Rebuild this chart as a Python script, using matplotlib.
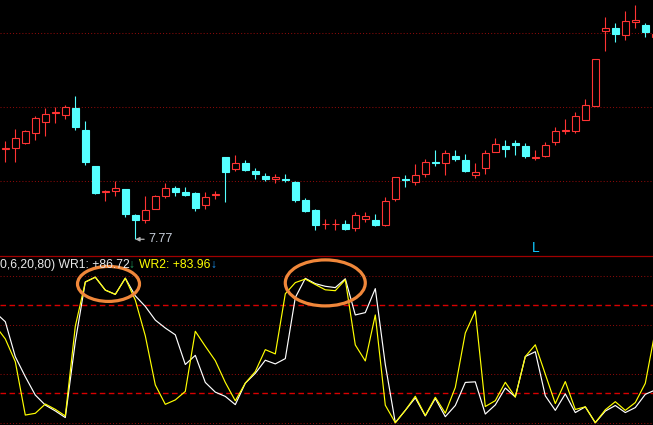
import matplotlib
matplotlib.use("Agg")
import matplotlib.pyplot as plt
from matplotlib.patches import Rectangle, Ellipse
from matplotlib.lines import Line2D
import numpy as np

# ---------------- data ----------------
opens  = [8.75, 8.76, 8.81, 8.92, 9.04, 9.13, 9.11, 9.19, 8.95, 8.56,
          8.28, 8.29, 8.31, 8.03, 7.98, 8.10, 8.24, 8.32, 8.28, 8.27,
          8.14, 8.25, 8.66, 8.53, 8.59, 8.51, 8.45, 8.42, 8.42, 8.39,
          8.19, 8.09, 7.93, 7.93, 7.94, 7.89, 7.99, 7.98, 7.92, 8.21,
          8.42, 8.39, 8.48, 8.60, 8.59, 8.67, 8.63, 8.47, 8.54, 8.71,
          8.78, 8.81, 8.78, 8.65, 8.67, 8.82, 8.94, 8.94, 9.06, 9.21,
          10.02, 10.05, 9.98, 10.12, 10.09, 9.96]
highs  = [8.83, 8.96, 8.95, 9.10, 9.19, 9.20, 9.22, 9.32, 9.05, 8.56,
          8.30, 8.40, 8.31, 8.04, 8.24, 8.25, 8.38, 8.35, 8.34, 8.28,
          8.28, 8.29, 8.66, 8.68, 8.63, 8.54, 8.49, 8.48, 8.48, 8.40,
          8.22, 8.10, 7.99, 7.99, 7.98, 8.06, 8.06, 8.04, 8.23, 8.44,
          8.46, 8.58, 8.64, 8.74, 8.74, 8.74, 8.69, 8.59, 8.74, 8.86,
          8.84, 8.84, 8.81, 8.74, 8.82, 8.98, 9.07, 9.15, 9.29, 9.72,
          10.17, 10.11, 10.24, 10.30, 10.11, 10.00]
lows   = [8.60, 8.61, 8.80, 8.84, 8.89, 9.03, 9.07, 8.95, 8.57, 8.26,
          8.18, 8.24, 8.01, 7.77, 7.95, 8.10, 8.22, 8.24, 8.24, 8.08,
          8.10, 8.21, 8.17, 8.51, 8.51, 8.42, 8.40, 8.38, 8.39, 8.17,
          8.07, 7.87, 7.88, 7.87, 7.87, 7.86, 7.96, 7.91, 7.91, 8.18,
          8.33, 8.36, 8.44, 8.56, 8.46, 8.62, 8.50, 8.43, 8.48, 8.71,
          8.66, 8.68, 8.65, 8.63, 8.66, 8.79, 8.91, 8.92, 9.06, 9.21,
          9.81, 9.90, 9.92, 10.05, 9.96, 9.96]
closes = [8.76, 8.87, 8.94, 9.08, 9.12, 9.15, 9.20, 8.98, 8.60, 8.27,
          8.29, 8.32, 8.04, 7.98, 8.09, 8.24, 8.32, 8.28, 8.25, 8.11,
          8.23, 8.26, 8.50, 8.59, 8.52, 8.48, 8.42, 8.44, 8.41, 8.19,
          8.08, 7.92, 7.94, 7.94, 7.88, 8.03, 8.02, 7.92, 8.18, 8.44,
          8.41, 8.46, 8.60, 8.59, 8.70, 8.64, 8.51, 8.50, 8.70, 8.80,
          8.75, 8.79, 8.67, 8.66, 8.79, 8.94, 8.95, 9.10, 9.22, 9.72,
          10.05, 9.99, 10.13, 10.14, 10.01, 9.99]
low_label = "7.77"
low_index = 13

# WR indicator (first value belongs to the bar before the first visible candle)
wr_x = list(range(-1, 66))
wr1 = [75, 68.7, 44.9, 31.3, 18.8, 12.0, 8.0, 3.5, 55, 95.7,
       99.0, 90.2, 87.3, 98.3, 86.3, 79.1, 69.8, 64.4, 59.8, 39.6,
       45.8, 27.4, 20.8, 17.9, 12.3, 26.9, 33.6, 42.5, 40.0, 43.6,
       85.1, 98.2, 94.6, 92.8, 91.9, 97.9, 73.3, 74.9, 91.2, 39.6,
       0.0, 8.4, 16.9, 4.6, 16.5, 4.1, 11.7, 27.4, 27.8, 5.9,
       12.1, 23.6, 17.5, 45.0, 48.3, 18.3, 8.4, 19.6, 6.9, 10.8,
       0.0, 7.9, 11.7, 6.9, 10.3, 19.3, 22.3]
wr2 = [66, 57, 41.5, 5.2, 6.4, 12.7, 9.1, 4.6, 65.6, 95.7,
       99.0, 90.2, 87.3, 98.3, 83.4, 59.1, 25.7, 12.5, 15.5, 21.3,
       62.2, 52.0, 42.2, 27.4, 14.9, 26.9, 34.8, 49.7, 46.8, 87.7,
       95.3, 97.7, 94.0, 90.4, 89.8, 97.3, 52.9, 42.0, 73.3, 11.9,
       0.0, 8.4, 18.0, 4.9, 17.3, 6.5, 24.0, 61.0, 76.0, 11.0,
       15.0, 27.5, 17.5, 45.0, 53.0, 33.0, 13.0, 28.0, 9.0, 10.8,
       0.0, 8.8, 14.3, 8.4, 13.7, 26.8, 62.8]
wr_levels_dashed = [20, 80]
wr_levels_dotted = [0, 33.33, 66.67, 100]
price_grid = [8.4, 9.2, 10.0]

label_params = "0,6,20,80)"
wr1_label = "WR1: +86.72"
wr2_label = "WR2: +83.96"

# ---------------- style ----------------
RED = "#ff3434"
CYAN = "#54ffff"
GRID = "#8a0a0a"
DASH = "#d80000"
W, H = 653, 425

fig = plt.figure(figsize=(W / 100, H / 100), dpi=100, facecolor="black")
ax1 = fig.add_axes([0, 1 - 255 / H, 1, 255 / H])
ax2 = fig.add_axes([0, 0, 1, 169 / H])
for ax in (ax1, ax2):
    ax.set_facecolor("black")
    ax.set_xticks([])
    ax.set_yticks([])
    for s in ax.spines.values():
        s.set_visible(False)
    ax.set_xlim(-0.53, 64.77)

ax1.set_ylim(7.6, 7.6 + 255 / 92.5)
ax2.set_ylim(-1.56, 113.4)

# price grid
for g in price_grid:
    ax1.axhline(g, color=GRID, lw=0.75, ls=(0, (1, 2)), zorder=0)

# candles
bw = 0.66
lw = 0.8
for i, (o, h, l, c) in enumerate(zip(opens, highs, lows, closes)):
    top, bot = max(o, c), min(o, c)
    if c >= o:
        ax1.add_patch(Rectangle((i - bw / 2, bot), bw, top - bot,
                                facecolor="black", edgecolor=RED, lw=lw, zorder=3))
        ax1.vlines(i, top, h, color=RED, lw=lw, zorder=2)
        ax1.vlines(i, l, bot, color=RED, lw=lw, zorder=2)
    else:
        ax1.vlines(i, l, h, color=CYAN, lw=lw, zorder=2)
        ax1.add_patch(Rectangle((i - bw / 2, bot), bw, top - bot,
                                facecolor=CYAN, edgecolor=CYAN, lw=lw, zorder=3))

# low annotation
ax1.annotate(low_label, xy=(low_index, lows[low_index]), xytext=(13, 0),
             textcoords="offset pixels", ha="left", va="center",
             color="#c8d0dc", fontsize=9, family=["Liberation Sans", "DejaVu Sans"],
             arrowprops=dict(arrowstyle="-|>", color="#b4b4b4", lw=0.9,
                             shrinkA=1, shrinkB=0, mutation_scale=6))

# separator
fig.add_artist(Line2D([0, 1], [1 - 255.5 / H] * 2, transform=fig.transFigure,
                      color="#a00000", lw=0.9))

# WR panel guides
for g in wr_levels_dotted:
    ax2.axhline(g, color=GRID, lw=0.75, ls=(0, (1, 2)), zorder=0)
for g in wr_levels_dashed:
    ax2.axhline(g, color=DASH, lw=1.0, ls=(0, (4, 2.5)), zorder=0)

ax2.plot(wr_x, wr1, color="white", lw=0.85, zorder=3, clip_on=True)
ax2.plot(wr_x, wr2, color="#ffff00", lw=0.85, zorder=4, clip_on=True)

# highlight ellipses
ax2.add_patch(Ellipse((10.32, 94.4), 6.2, 23.8, fill=False, edgecolor="#f0873a",
                      lw=2.3, zorder=10, clip_on=False))
ax2.add_patch(Ellipse((32.0, 95.1), 8.0, 31.3, fill=False, edgecolor="#f0873a",
                      lw=2.3, zorder=10, clip_on=False))

# labels
fam = ["Liberation Sans", "DejaVu Sans"]
yb = 1 - 268.3 / H
fs = 8.7
fig.text(0 / W, yb, label_params + " " + wr1_label, color="#e8e8e8", fontsize=fs,
         family=fam, va="baseline", ha="left", zorder=5)
fig.text(128.6 / W, yb, "\u2193", color="#20a060", fontsize=fs, family=fam,
         va="baseline", ha="left", zorder=5)
fig.text(139 / W, yb, wr2_label, color="#ffff00", fontsize=fs, family=fam,
         va="baseline", ha="left", zorder=5)
fig.text(210.3 / W, yb, "\u2193", color="#1e9bff", fontsize=fs, family=fam,
         va="baseline", ha="left", zorder=5)
fig.text(531.5 / W, 1 - 251.7 / H, "L", color="#10c8ff", fontsize=10, family=fam,
         va="baseline", ha="left")

fig.savefig("out.png", dpi=100, facecolor="black")
